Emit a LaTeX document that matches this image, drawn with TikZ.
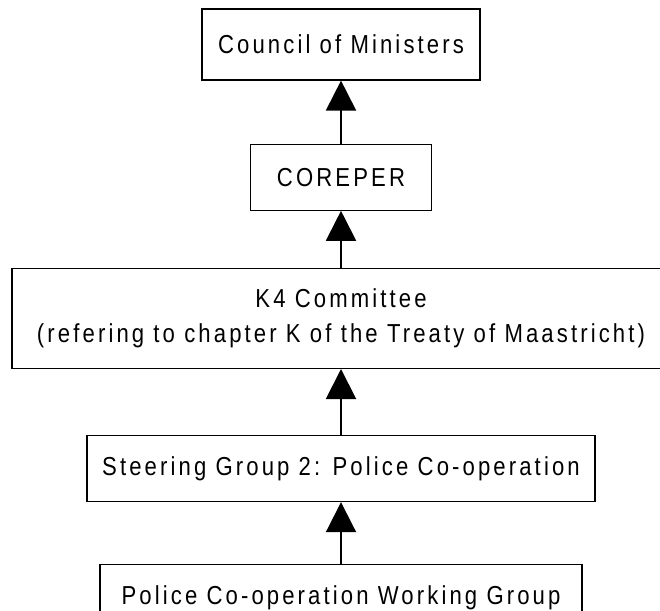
\documentclass[tikz,border=0pt]{standalone}
\usepackage{fontspec}
\setmainfont{Liberation Sans}[FakeStretch=0.85, LetterSpace=12]
\usetikzlibrary{positioning}
\usetikzlibrary{arrows.meta}
\tikzset{
    mybox/.style = {rectangle, draw=black, line width=1.2pt, align=center, inner sep=0pt, font=\fontsize{26}{35}\selectfont},
    uparrow/.style = {line width=2pt, -{Triangle[length=30pt,width=30pt]}},
}

\begin{document}
\begin{tikzpicture}[x=1pt, y=1pt]
  \clip (0,0) rectangle (660,-610);
  \node[mybox, minimum width=278pt, minimum height=71pt] (council) at (341,-44.5) {Council of Ministers};
  \node[mybox, minimum width=181pt, minimum height=66pt, below=63pt of council] (coreper) {COREPER};
  \node[mybox, minimum width=658pt, minimum height=100pt, below=57pt of coreper] (kfour)
    {K4 Committee\\(refering to chapter K of the Treaty of Maastricht)};
  \node[mybox, minimum width=508pt, minimum height=66pt, below=66pt of kfour] (steering) {Steering Group 2: Police Co-operation};
  \node[mybox, minimum width=482pt, minimum height=66pt, below=62pt of steering] (police) {Police Co-operation Working Group};
  % arrows point upwards
  \draw[uparrow] (coreper) -- (council);
  \draw[uparrow] (kfour) -- (coreper);
  \draw[uparrow] (steering) -- (kfour);
  \draw[uparrow] (police) -- (steering);
\end{tikzpicture}
\end{document}
